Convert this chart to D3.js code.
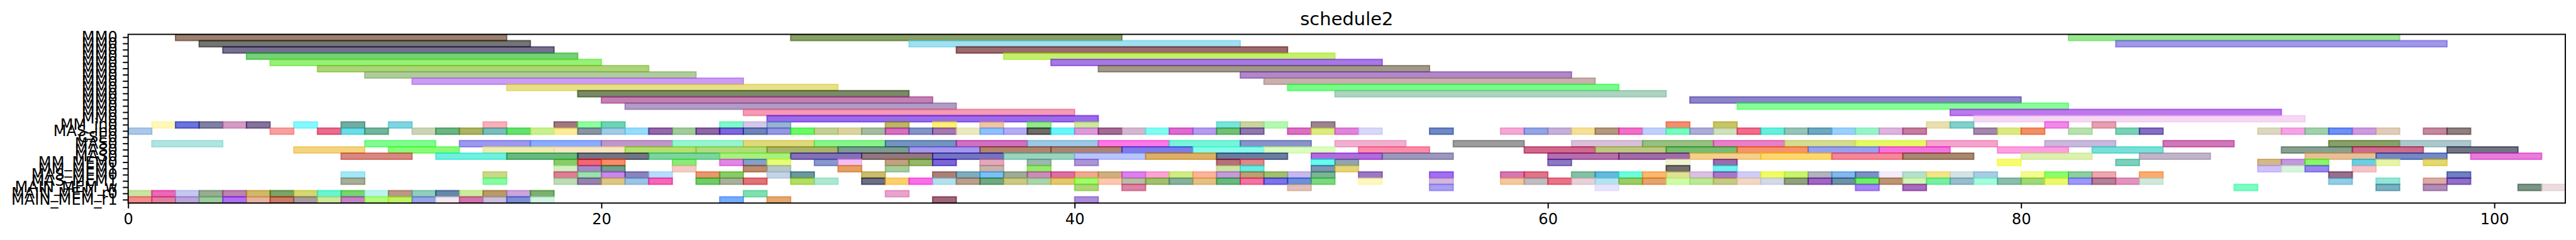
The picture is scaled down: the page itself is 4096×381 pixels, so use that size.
<!DOCTYPE html>
<html><head><meta charset="utf-8">
<script src="https://cdnjs.cloudflare.com/ajax/libs/d3/7.8.5/d3.min.js"></script>
<style>html,body{margin:0;padding:0;background:#fff;overflow:hidden}svg{display:block}text{font-family:"DejaVu Sans";fill:#000}</style>
</head><body><svg id="c" width="4096" height="381"></svg>
<script>
const title = "schedule2";
const laneLabels = ["MM0","MM0","MM0","MM0","MM0","MM0","MM0","MM0","MM0","MM0","MM0","MM0","MM0","MM0","MM_in0","MAS_in0","CSE0","MAS0","MAS0","MAS0","MM_MEM0","MM_MEM1","MAS_MEM0","MAS_MEM1","MAIN_MEM_w","MAIN_MEM_r0","MAIN_MEM_r1"];
const xTicks = [0,20,40,60,80,100];
const xMax = 103;

const lane0 = [[2,16,"#9d8170"],[28,42,"#88a066"],[82,96,"#98e890"]];
const lane1 = [[3,17,"#747472"],[33,47,"#a0e0f0"],[84,98,"#a098e8"]];
const lane2 = [[4,18,"#767090"],[35,49,"#9c6a6c"]];
const lane3 = [[5,19,"#78d078"],[37,51,"#c4f070"]];
const lane4 = [[6,20,"#98f078"],[39,53,"#a878e8"]];
const lane5 = [[8,22,"#acd478"],[41,55,"#a09888"]];
const lane6 = [[10,24,"#b0cc9c"],[47,61,"#b088c8"]];
const lane7 = [[12,26,"#cc9cf4"],[48,62,"#c8b0ac"]];
const lane8 = [[16,30,"#e8e088"],[49,63,"#78fc88"]];
const lane9 = [[19,33,"#7a8a68"],[51,65,"#acd4c0"]];
const lane10 = [[20,34,"#c480b4"],[66,80,"#8c84c8"]];
const lane11 = [[21,35,"#b09cc4"],[68,82,"#88fc98"]];
const lane12 = [[26,40,"#f49ab4"],[77,91,"#bc78ec"]];
const lane13 = [[27,41,"#9a6cec"],[78,92,"#f6d8f4"]];
const lane14 = [[1,2,"#fff8b8"],[2,3,"#6c74d8"],[3,4,"#8080a4"],[4,5,"#d49cc4"],[5,6,"#84749c"],[7,8,"#88f8fc"],[9,10,"#74aca0"],[11,12,"#80d4e0"],[15,16,"#f8b0b8"],[18,19,"#a07880"],[19,20,"#90fca0"],[20,21,"#70d4b4"],[25,26,"#80f8c8"],[26,27,"#d4c8e8"],[27,28,"#98b4d4"],[32,33,"#b8b864"],[34,35,"#fcf078"],[36,37,"#f0c4a8"],[38,39,"#94e88c"],[40,41,"#cce8a0"],[46,47,"#78e4dc"],[47,48,"#c8d4a0"],[48,49,"#b4f8b4"],[50,51,"#9c8494"],[65,66,"#f48c70"],[67,68,"#c8c468"],[76,77,"#e8e0b0"],[77,78,"#84d0cc"],[81,82,"#f088e8"],[83,84,"#e4a0b0"]];
const lane15 = [[0,1,"#acc8e8"],[6,7,"#f8a0a0"],[8,9,"#e86c8c"],[9,10,"#70dce4"],[10,11,"#74b49c"],[12,13,"#ccd4b8"],[13,14,"#6cb484"],[14,15,"#acb464"],[15,16,"#7cbcbc"],[16,17,"#68e070"],[17,18,"#c8f090"],[18,19,"#fcec9c"],[19,20,"#8894a4"],[20,21,"#a0cce4"],[21,22,"#98dcfc"],[22,23,"#9468ac"],[23,24,"#a0cc9c"],[24,25,"#8c68a4"],[25,26,"#7c68d8"],[26,27,"#7084b8"],[27,28,"#9498e0"],[28,29,"#6cf868"],[29,30,"#c4d094"],[30,31,"#dcd4a0"],[31,32,"#a4bca0"],[32,33,"#d470c0"],[33,34,"#8494c8"],[34,35,"#a478b4"],[35,36,"#ece8c0"],[36,37,"#90c0fc"],[37,38,"#b4acf4"],[38,39,"#6c6c68"],[39,40,"#6cf4fc"],[40,41,"#dc9cdc"],[41,42,"#a46c94"],[42,43,"#d4b8d0"],[43,44,"#80fcf0"],[44,45,"#dc6cd0"],[45,46,"#b49cf0"],[46,47,"#74c078"],[47,48,"#9078b0"],[49,50,"#dc70c0"],[50,51,"#dcec80"],[51,52,"#e084dc"],[52,53,"#d8d8f8"],[55,56,"#7088c4"],[58,59,"#f4a8d4"],[59,60,"#94a4e4"],[60,61,"#c4b0d8"],[61,62,"#f4e098"],[62,63,"#b49880"],[63,64,"#f070c8"],[64,65,"#c0d0fc"],[65,66,"#78fcc0"],[66,67,"#acacd8"],[67,68,"#d0e0bc"],[68,69,"#f06c8c"],[69,70,"#60f0dc"],[70,71,"#98c4b8"],[71,72,"#70a8c0"],[72,73,"#9cd0fc"],[73,74,"#98f4c8"],[74,75,"#dcb4dc"],[75,76,"#c47ca0"],[78,79,"#a488ac"],[79,80,"#dce884"],[80,81,"#f09068"],[82,83,"#b8e0b0"],[84,85,"#7cd0b8"],[85,86,"#8470c0"],[90,91,"#dcd8c0"],[91,92,"#f4a4e4"],[92,93,"#a0d0ac"],[93,94,"#7090f4"],[94,95,"#cc9ce0"],[95,96,"#e0ccb8"],[97,98,"#c488a0"],[98,99,"#908080"]];
const lane16 = [];
const lane17 = [[1,4,"#b0e4e0"],[10,13,"#80fc90"],[14,17,"#9c98f0"],[17,20,"#8cacfc"],[20,23,"#c098c8"],[23,26,"#98f4d0"],[26,29,"#e0d87c"],[29,32,"#88f48c"],[32,35,"#7494c0"],[35,38,"#d070c0"],[38,41,"#9cc8e4"],[41,44,"#fc78e4"],[44,47,"#78f4d8"],[47,50,"#8894c8"],[51,54,"#f0b0d0"],[56,59,"#9c9c9c"],[61,64,"#d8c0d8"],[64,67,"#98c084"],[67,70,"#e880c8"],[70,73,"#d4dc90"],[73,76,"#e4f868"],[76,79,"#f4a4cc"],[81,84,"#c8b8dc"],[86,89,"#d078b8"],[93,96,"#88a068"],[96,99,"#acc8cc"]];
const lane18 = [[7,10,"#f4d480"],[11,14,"#88fc78"],[15,18,"#f0ecb0"],[18,21,"#f8e8c0"],[21,24,"#b4e070"],[24,27,"#b0dc7c"],[27,30,"#a8b46c"],[30,33,"#7c9c90"],[33,36,"#a498ec"],[36,39,"#b08470"],[39,42,"#ac8474"],[42,45,"#7c7ce8"],[45,48,"#88fce8"],[48,51,"#dcfcc0"],[52,55,"#fc8ca8"],[59,62,"#d0688c"],[62,65,"#bcc880"],[65,68,"#78bc70"],[68,71,"#f49468"],[71,74,"#98a0f0"],[74,77,"#f474e0"],[79,82,"#fca0e0"],[83,86,"#78e0d8"],[91,94,"#88a090"],[94,97,"#cc6c8c"],[98,101,"#707484"]];
const lane19 = [[9,12,"#d88880"],[13,16,"#70f0e0"],[16,19,"#68b880"],[19,22,"#707484"],[22,25,"#7cd4a0"],[25,28,"#a8f080"],[28,31,"#8470b8"],[31,34,"#907880"],[34,37,"#7474c0"],[37,40,"#98d4c0"],[40,43,"#b8c4fc"],[43,46,"#dcb068"],[46,49,"#6c7ca0"],[50,53,"#b06cdc"],[53,56,"#9c98bc"],[60,63,"#b470ac"],[63,66,"#a06ca8"],[66,69,"#f4d08c"],[69,72,"#fcd870"],[72,75,"#f48898"],[75,78,"#a88870"],[80,83,"#dcf0b0"],[85,88,"#c0b4c8"],[92,95,"#e8c098"],[95,98,"#7488c4"],[99,102,"#e87cdc"]];
const lane20 = [[18,19,"#88cc68"],[19,20,"#f46470"],[20,21,"#fc8c68"],[23,24,"#88ec78"],[25,26,"#e088e4"],[26,27,"#84a0c8"],[27,28,"#e8fc78"],[29,30,"#8898cc"],[30,31,"#f4c0f4"],[32,33,"#c4a080"],[33,34,"#94b868"],[34,35,"#7c64d4"],[36,37,"#e4a8bc"],[38,39,"#9cb8b0"],[40,41,"#ac94d8"],[46,47,"#b87078"],[47,48,"#e08888"],[50,51,"#60fcf0"],[51,52,"#90a4b0"],[60,61,"#8c78c4"],[65,66,"#f0f4d0"],[67,68,"#9c6cac"],[79,80,"#f8fc70"],[84,85,"#7cd0bc"],[90,91,"#d4b888"],[91,92,"#c498dc"],[92,93,"#88f868"],[94,95,"#68d0e4"],[95,96,"#e8f4a8"],[97,98,"#e4d870"]];
const lane21 = [[18,19,"#d0f0c4"],[19,20,"#a888c4"],[20,21,"#70a088"],[23,24,"#f4ccc4"],[26,27,"#bc8c70"],[27,28,"#b8c8c8"],[30,31,"#e4a064"],[32,33,"#a8cc9c"],[36,37,"#c8b4ac"],[38,39,"#98e870"],[46,47,"#cce4a8"],[47,48,"#68ece4"],[50,51,"#8094b4"],[51,52,"#e4d47c"],[65,66,"#706c70"],[67,68,"#70f4ec"],[90,91,"#d0c0fc"],[91,92,"#d8f4dc"],[92,93,"#9888ec"],[94,95,"#f4c4c8"]];
const lane22 = [[9,10,"#a4e8f8"],[15,16,"#ccd888"],[18,19,"#dc8094"],[19,20,"#9ce0ac"],[20,21,"#c888ec"],[21,22,"#8884bc"],[22,23,"#b8dcfc"],[24,25,"#e89870"],[25,26,"#88cc60"],[27,28,"#c4d4e4"],[28,29,"#6c98a0"],[31,32,"#ccbc70"],[34,35,"#ac8078"],[35,36,"#80acc0"],[36,37,"#7cc0f4"],[37,38,"#9cac98"],[38,39,"#cc8cb8"],[39,40,"#dc70a4"],[40,41,"#f0a890"],[41,42,"#ccb080"],[42,43,"#dc80f0"],[43,44,"#fca4d4"],[44,45,"#d0ec84"],[45,46,"#fcb49c"],[46,47,"#c49cd8"],[47,48,"#bca074"],[48,49,"#a0c070"],[49,50,"#c8b8ec"],[50,51,"#7cb498"],[52,53,"#9c78c4"],[55,56,"#a070f0"],[58,59,"#d478b0"],[59,60,"#e07488"],[61,62,"#84c0a4"],[62,63,"#64b8dc"],[63,64,"#70fcdc"],[64,65,"#fcb870"],[65,66,"#e0e098"],[66,67,"#dcc0e4"],[67,68,"#a878c8"],[68,69,"#d0ccf8"],[69,70,"#f0fc64"],[70,71,"#c8f470"],[71,72,"#b0b4bc"],[72,73,"#84b8ec"],[73,74,"#7c90c8"],[74,75,"#f4ecfc"],[75,76,"#b4e0cc"],[76,77,"#f4e488"],[77,78,"#d4e4e4"],[78,79,"#a8cce4"],[80,81,"#f4fc90"],[81,82,"#8cfc70"],[82,83,"#8cd0a0"],[83,84,"#eca8b0"],[85,86,"#fcac70"],[93,94,"#98708c"],[98,99,"#7080c0"]];
const lane23 = [[9,10,"#a8ac98"],[15,16,"#88fca4"],[18,19,"#bcdcb8"],[19,20,"#9484ac"],[20,21,"#dcc884"],[21,22,"#9cc4e4"],[22,23,"#f468b8"],[24,25,"#70cc68"],[25,26,"#a8b09c"],[26,27,"#e07478"],[28,29,"#b4dc58"],[29,30,"#ace8d0"],[31,32,"#6c7084"],[32,33,"#fcd070"],[33,34,"#f870e8"],[34,35,"#b4e0ec"],[35,36,"#b8a08c"],[36,37,"#74a880"],[37,38,"#ccc888"],[38,39,"#acd4ac"],[39,40,"#e4c870"],[40,41,"#a0fc70"],[41,42,"#fcc8b0"],[42,43,"#bcbca8"],[43,44,"#a0c070"],[44,45,"#88b09c"],[45,46,"#e4c084"],[46,47,"#6cb880"],[47,48,"#f074a0"],[48,49,"#7c74e4"],[49,50,"#6c90dc"],[50,51,"#7cd880"],[52,53,"#fcf8c0"],[55,56,"#d4b8dc"],[58,59,"#f4c8a0"],[59,60,"#c0bcc0"],[60,61,"#e87488"],[61,62,"#e8d0d8"],[62,63,"#b4e4f0"],[63,64,"#9ccc68"],[64,65,"#e4a470"],[65,66,"#d0fca8"],[66,67,"#bce898"],[67,68,"#c8c888"],[68,69,"#f0d8c4"],[69,70,"#d4d8e8"],[70,71,"#90a080"],[71,72,"#9c68c0"],[72,73,"#7090a4"],[73,74,"#70f068"],[74,75,"#bc9474"],[75,76,"#d4f4b8"],[76,77,"#78f0a0"],[77,78,"#98bccc"],[78,79,"#a4fcdc"],[79,80,"#8cbcac"],[80,81,"#a0d878"],[81,82,"#ecf870"],[82,83,"#9c98f8"],[83,84,"#b48098"],[84,85,"#e094bc"],[85,86,"#d0e8dc"],[93,94,"#94cce4"],[95,96,"#98e4d8"],[97,98,"#dcaca4"],[98,99,"#9070c4"]];
const lane24 = [[40,41,"#acd878"],[42,43,"#dc84a4"],[49,50,"#e0c0b8"],[55,56,"#a8a0f4"],[62,63,"#e8e4fc"],[73,74,"#a884f4"],[75,76,"#a86cbc"],[89,90,"#7cfcc4"],[95,96,"#7cb0c0"],[97,98,"#b08cb8"],[101,102,"#7c9484"],[102,103,"#ecdce0"]];
const lane25 = [[0,1,"#c8e4a4"],[1,2,"#ec68b8"],[2,3,"#c4c8f0"],[3,4,"#98ac94"],[4,5,"#bc84b0"],[5,6,"#d0b868"],[6,7,"#7ca468"],[7,8,"#d4d870"],[8,9,"#6cf4d0"],[9,10,"#78d470"],[10,11,"#bcf4f0"],[11,12,"#bc9888"],[12,13,"#90cebc"],[13,14,"#6488a8"],[14,15,"#ccec9c"],[15,16,"#b89c68"],[16,17,"#cca4dc"],[17,18,"#7cb070"],[26,27,"#80e0b0"],[32,33,"#e8a4cc"]];
const lane26 = [[0,1,"#f48c8c"],[1,2,"#e080a0"],[2,3,"#bca4dc"],[3,4,"#9ccc9c"],[4,5,"#b070f4"],[5,6,"#e4b4a0"],[6,7,"#cc7c68"],[7,8,"#a89ca0"],[8,9,"#d0e89c"],[9,10,"#c484c8"],[10,11,"#b4fc7c"],[11,12,"#c0f468"],[12,13,"#98a4e4"],[13,14,"#f4e8f0"],[14,15,"#d474ac"],[15,16,"#ccc0dc"],[16,17,"#7c90d8"],[17,18,"#d4f4e4"],[25,26,"#78acfc"],[27,28,"#e4a870"],[34,35,"#a0607c"],[40,41,"#ac8cdc"]];
const lanes = [lane0,lane1,lane2,lane3,lane4,lane5,lane6,lane7,lane8,lane9,lane10,lane11,lane12,lane13,lane14,lane15,lane16,lane17,lane18,lane19,lane20,lane21,lane22,lane23,lane24,lane25,lane26];

// Reference-pixel geometry, scaled to the window.
const S = 4096/4710;
const px = v => v*S;
const plot = {left:px(234.3), right:px(4690.5), top:px(62.7), bottom:px(370.7)};
const ALPHA = 0.6;
const FONT = px(27.78), TITLE_FONT = px(33.33), SPINE = px(2.22), TICK = px(9.72), PAD = px(9.72), EDGE = px(2.3);

// The listed colours are the tints as seen on white; recover the pure colour drawn at ALPHA.
const pure = hex => { const c=d3.rgb(hex), f=v=>Math.max(0,Math.min(255,(v-255*(1-ALPHA))/ALPHA)); return d3.rgb(f(c.r),f(c.g),f(c.b)).formatHex(); };

const svg = d3.select("#c");
const x = d3.scaleLinear().domain([0,xMax]).range([plot.left,plot.right]);
const idx = d3.range(laneLabels.length);
const y = d3.scaleBand().domain(idx).range([plot.top,plot.bottom]);

svg.append("defs").append("clipPath").attr("id","clip").append("rect")
  .attr("x",plot.left).attr("y",plot.top).attr("width",plot.right-plot.left).attr("height",plot.bottom-plot.top);

const bars = lanes.flatMap((l,i)=>l.map(b=>({lane:i,start:b[0],end:b[1],color:pure(b[2])})));
svg.append("g").attr("clip-path","url(#clip)").selectAll("rect").data(bars).join("rect")
  .attr("x",d=>x(d.start)).attr("y",d=>y(d.lane))
  .attr("width",d=>x(d.end)-x(d.start)).attr("height",y.bandwidth())
  .attr("fill",d=>d.color).attr("fill-opacity",ALPHA)
  .attr("stroke",d=>d.color).attr("stroke-opacity",ALPHA).attr("stroke-width",EDGE);

const styleAxis = g => {
  g.select(".domain").remove();
  g.selectAll(".tick line").attr("stroke","#000").attr("stroke-width",SPINE);
  g.selectAll("text").attr("font-family","DejaVu Sans").attr("font-size",FONT).attr("fill","#000");
};
svg.append("g").attr("transform",`translate(0,${plot.bottom})`)
  .call(d3.axisBottom(x).tickValues(xTicks).tickFormat(d3.format("d")).tickSize(TICK).tickPadding(PAD)).call(styleAxis);
svg.append("g").attr("transform",`translate(${plot.left},0)`)
  .call(d3.axisLeft(y).tickFormat(i=>laneLabels[i]).tickSize(TICK).tickPadding(PAD)).call(styleAxis);

svg.append("rect").attr("x",plot.left).attr("y",plot.top).attr("width",plot.right-plot.left).attr("height",plot.bottom-plot.top)
  .attr("fill","none").attr("stroke","#000").attr("stroke-width",SPINE);

svg.append("text").attr("x",(plot.left+plot.right)/2).attr("y",plot.top-px(16.67))
  .attr("text-anchor","middle").attr("font-size",TITLE_FONT).text(title);
</script></body></html>
